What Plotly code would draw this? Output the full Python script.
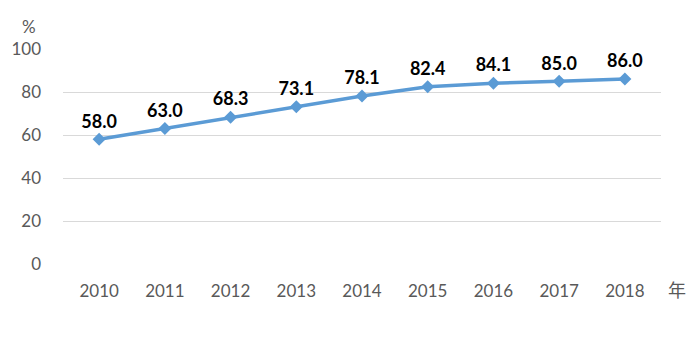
import plotly.graph_objects as go

years = ["2010", "2011", "2012", "2013", "2014", "2015", "2016", "2017", "2018"]
values = [58.0, 63.0, 68.3, 73.1, 78.1, 82.4, 84.1, 85.0, 86.0]
y_ticks = [0, 20, 40, 60, 80, 100]

fig = go.Figure()
fig.add_trace(go.Scatter(
    x=years, y=values, mode="lines+markers+text",
    line=dict(color="#5B9BD5", width=3.5),
    marker=dict(symbol="diamond", size=10, color="#5B9BD5"),
    text=[f"{v:.1f}" for v in values],
    textposition="top center",
    textfont=dict(family="Lato, sans-serif", size=18, color="#000000", weight="bold"),
    cliponaxis=False,
    showlegend=False,
))

fig.update_layout(
    width=692, height=341,
    margin=dict(l=63, r=31, t=49, b=77),
    paper_bgcolor="white", plot_bgcolor="white",
    font=dict(family="Lato, sans-serif", size=17, color="#595959"),
    xaxis=dict(type="category", showgrid=False, showline=False, ticks="",
               tickfont=dict(size=17, color="#595959"), ticklabelstandoff=15),
    yaxis=dict(range=[0, 100], tickvals=y_ticks, showgrid=True, gridcolor="#D9D9D9",
               gridwidth=1, zeroline=False, showline=False, ticks="",
               tickfont=dict(size=17, color="#595959"), ticklabelstandoff=21),
    annotations=[
        dict(text="%", xref="paper", yref="paper", x=0, xshift=-25, y=1.0, yshift=23,
             xanchor="right", yanchor="middle", showarrow=False,
             font=dict(size=17, color="#595959")),
        dict(text="年", xref="paper", yref="paper", x=1.0, y=0, yshift=-25, xshift=5,
             xanchor="left", yanchor="middle", showarrow=False,
             font=dict(family="Noto Sans CJK SC", size=18, color="#595959")),
    ],
)

fig.write_html("out.html")
